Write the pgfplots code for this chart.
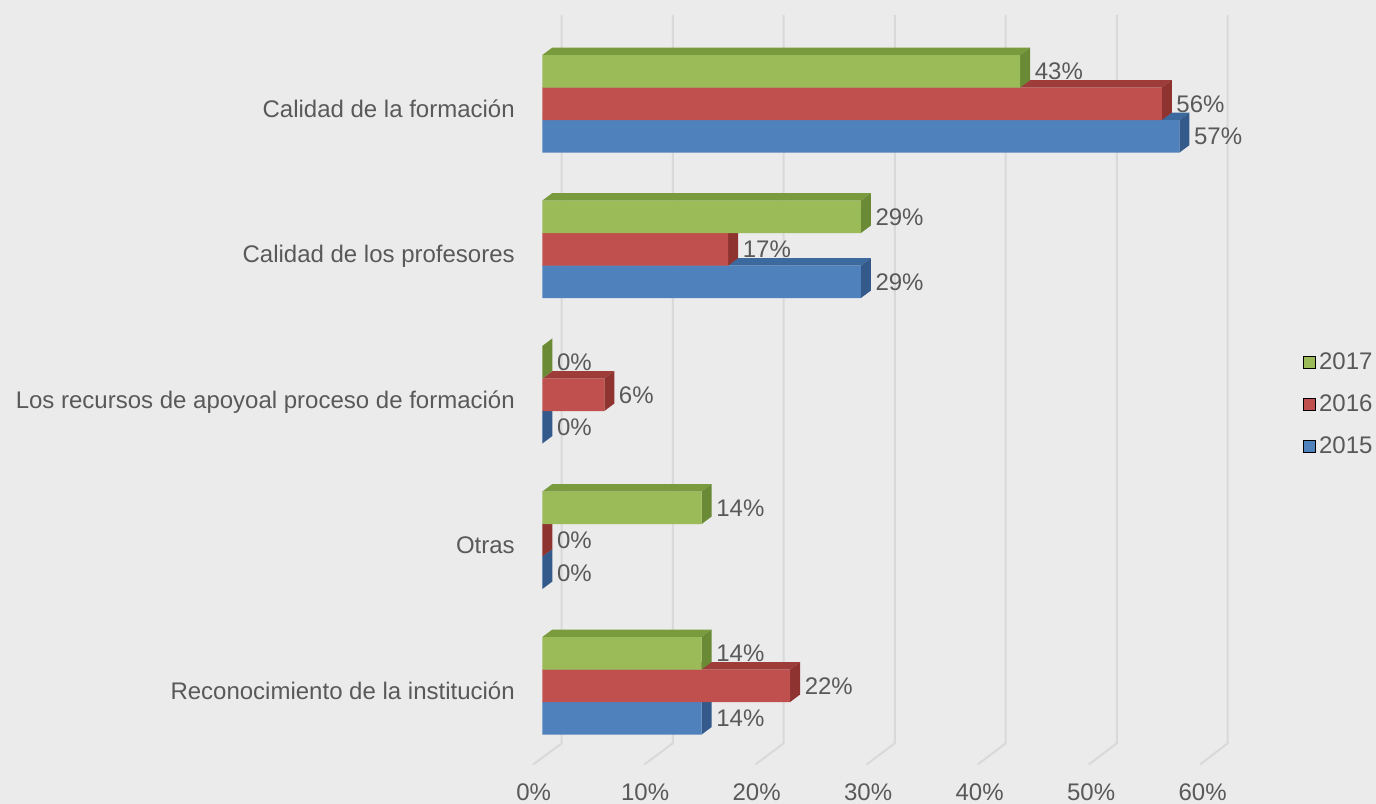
\documentclass[border=0pt]{standalone}
\usepackage{fontspec}
\setmainfont{Liberation Sans}
\usepackage{pgfplots}
\pgfplotsset{compat=1.18}
\definecolor{bg}{HTML}{EBEBEB}
\definecolor{gridc}{HTML}{D9D9D9}
\definecolor{tc}{HTML}{595959}
\definecolor{gF}{HTML}{9BBB59}\definecolor{gT}{HTML}{7A9A3E}\definecolor{gS}{HTML}{6B8A35}
\definecolor{rF}{HTML}{C0504D}\definecolor{rT}{HTML}{9E3C39}\definecolor{rS}{HTML}{8E3330}
\definecolor{bF}{HTML}{4F81BD}\definecolor{bT}{HTML}{3D6A9E}\definecolor{bS}{HTML}{335A8A}
\newcommand\ff{\fontsize{18}{21.6}\selectfont}
\def\hh{0.1117}\def\ddx{0.897}\def\ddy{0.0515}
% 3D top and side faces of a bar: #1 value, #2 bar centre, #3 top colour, #4 side colour
\newcommand\faces[4]{%
  \pgfmathsetmacro\fA{#2+\hh}%
  \pgfmathsetmacro\fB{#2+\hh+\ddy}%
  \pgfmathsetmacro\fC{#2-\hh}%
  \pgfmathsetmacro\fD{#2-\hh+\ddy}%
  \pgfmathsetmacro\fE{#1+\ddx}%
  \edef\facesnext{%
    \noexpand\addplot[fill=#3,draw=none,mark=none,forget plot] coordinates {(0,\fA) (#1,\fA) (\fE,\fB) (\ddx,\fB)};%
    \noexpand\addplot[fill=#4,draw=none,mark=none,forget plot] coordinates {(#1,\fC) (#1,\fA) (\fE,\fB) (\fE,\fD)};%
  }%
  \facesnext
}
\begin{document}
\begin{tikzpicture}
\begin{axis}[
  x=8.3625pt, y=109.125pt,
  xmin=-48.64, xmax=74.77, ymin=-0.8124, ymax=4.7134,
  axis background/.style={fill=bg},
  axis line style={draw=none},
  major tick length=0pt,
  tick style={draw=none},
  /pgf/number format/assume math mode=true,
  xtick={0,10,20,30,40,50,60},
  xticklabels={0\%,10\%,20\%,30\%,40\%,50\%,60\%},
  ytick={0,1,2,3,4},
  yticklabels={Reconocimiento de la institución,Otras,Los recursos de apoyoal proceso de formación,Calidad de los profesores,Calidad de la formación},
  xticklabel style={anchor=base, inner sep=0pt, xshift=-6.5pt, yshift=2.5pt, font=\ff, text=tc},
  yticklabel style={anchor=base east, inner sep=0pt, xshift=386.25pt, yshift=-10.2pt, font=\ff, text=tc},
  legend image code/.code={\fill[#1] (0pt,-5.5pt) rectangle (9pt,3.5pt);},
  legend cell align=left,
  legend style={at={(axis cs:68.16,2.2921)}, anchor=north west, draw=none, fill=none,
    inner sep=0pt, row sep=18.6pt, font=\ff, text=tc,
    nodes={inner sep=0pt, text height=12.9pt, text depth=0pt},
    /tikz/every odd column/.append style={column sep=3pt}},
  every node near coord/.append style={anchor=west, inner sep=0pt, xshift=10.8pt, font=\ff, text=tc},
]
% gridlines (back wall and floor)
\addplot[gridc, line width=1.5pt, mark=none, line join=round, forget plot] coordinates {(1.74,4.6103) (1.74,-0.3952) (-0.83,-0.5409)};
\addplot[gridc, line width=1.5pt, mark=none, line join=round, forget plot] coordinates {(11.70,4.6103) (11.70,-0.3952) (9.14,-0.5409)};
\addplot[gridc, line width=1.5pt, mark=none, line join=round, forget plot] coordinates {(21.65,4.6103) (21.65,-0.3952) (19.11,-0.5409)};
\addplot[gridc, line width=1.5pt, mark=none, line join=round, forget plot] coordinates {(31.61,4.6103) (31.61,-0.3952) (29.08,-0.5409)};
\addplot[gridc, line width=1.5pt, mark=none, line join=round, forget plot] coordinates {(41.56,4.6103) (41.56,-0.3952) (39.05,-0.5409)};
\addplot[gridc, line width=1.5pt, mark=none, line join=round, forget plot] coordinates {(51.52,4.6103) (51.52,-0.3952) (49.02,-0.5409)};
\addplot[gridc, line width=1.5pt, mark=none, line join=round, forget plot] coordinates {(61.47,4.6103) (61.47,-0.3952) (58.99,-0.5409)};
% 3D faces: 2015
\faces{57.14}{3.7766}{bT}{bS}
\faces{28.57}{2.7766}{bT}{bS}
\faces{0}{1.7766}{bT}{bS}
\faces{0}{0.7766}{bT}{bS}
\faces{14.29}{-0.2234}{bT}{bS}
% 2016
\faces{55.56}{4}{rT}{rS}
\faces{16.67}{3}{rT}{rS}
\faces{5.56}{2}{rT}{rS}
\faces{0}{1}{rT}{rS}
\faces{22.22}{0}{rT}{rS}
% 2017
\faces{42.86}{4.2234}{gT}{gS}
\faces{28.57}{3.2234}{gT}{gS}
\faces{0}{2.2234}{gT}{gS}
\faces{14.29}{1.2234}{gT}{gS}
\faces{14.29}{0.2234}{gT}{gS}
% front faces
\addplot[xbar, bar width=0.2234, bar shift=-0.2234, fill=bF, draw=none, forget plot,
  point meta=x, nodes near coords={\pgfmathprintnumber[fixed,precision=0]{\pgfplotspointmeta}\%},
  every node near coord/.append style={yshift=-24.38pt}]
  coordinates {(57.14,4) (28.57,3) (0,2) (0,1) (14.29,0)};
\addplot[xbar, bar width=0.2234, bar shift=0, fill=rF, draw=none, forget plot,
  point meta=x, nodes near coords={\pgfmathprintnumber[fixed,precision=0]{\pgfplotspointmeta}\%}]
  coordinates {(55.56,4) (16.67,3) (5.56,2) (0,1) (22.22,0)};
\addplot[xbar, bar width=0.2234, bar shift=0.2234, fill=gF, draw=none, forget plot,
  point meta=x, nodes near coords={\pgfmathprintnumber[fixed,precision=0]{\pgfplotspointmeta}\%},
  every node near coord/.append style={yshift=24.38pt}]
  coordinates {(42.86,4) (28.57,3) (0,2) (14.29,1) (14.29,0)};
\addlegendimage{fill=gF}\addlegendentry{2017}
\addlegendimage{fill=rF}\addlegendentry{2016}
\addlegendimage{fill=bF}\addlegendentry{2015}
\end{axis}
\end{tikzpicture}
\end{document}
